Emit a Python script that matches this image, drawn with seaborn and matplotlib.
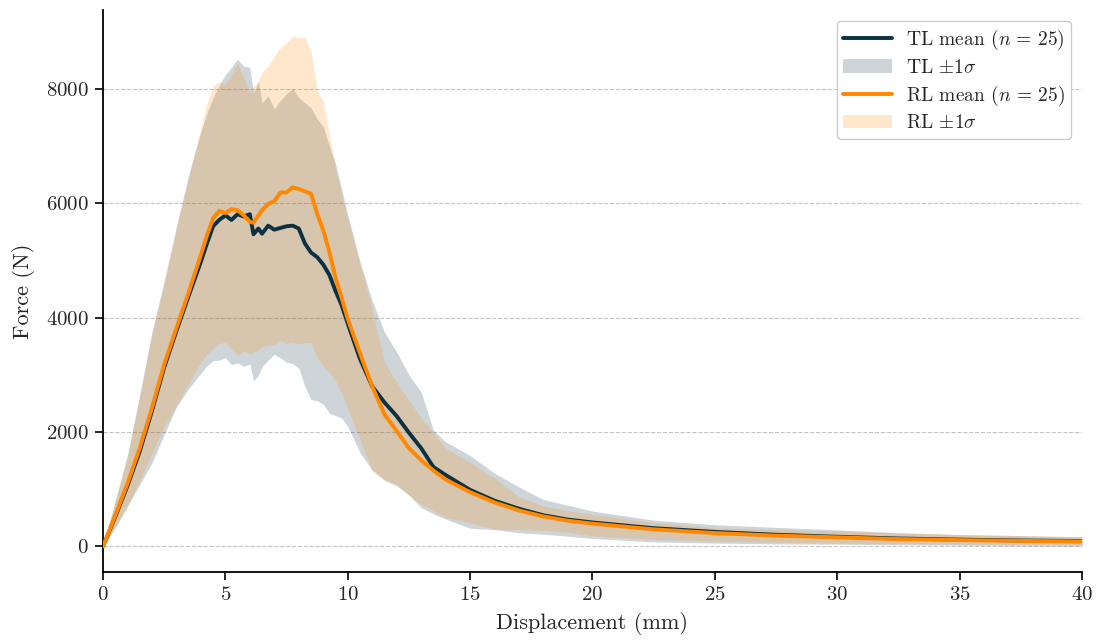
import matplotlib
matplotlib.use("Agg")
import matplotlib.pyplot as plt
import seaborn as sns
import numpy as np
import pandas as pd

# ---- data ----
displacement_mm = [0, 0.5, 1, 1.5, 2, 2.5, 3, 3.5, 4, 4.25, 4.5, 4.75, 5, 5.25, 5.5, 5.75, 6,
                   6.15, 6.35, 6.5, 6.75, 7, 7.25, 7.5, 7.75, 8, 8.25, 8.5, 8.75, 9, 9.25, 9.5,
                   9.75, 10, 10.5, 11, 11.5, 12, 12.5, 13, 13.5, 14, 15, 16, 17, 18, 19, 20,
                   22.5, 25, 27.5, 30, 32.5, 35, 37.5, 40]

tl_mean = [0, 520, 1060, 1660, 2370, 3130, 3770, 4380, 4980, 5300, 5600, 5710, 5790, 5710, 5810, 5770, 5810,
           5460, 5560, 5470, 5610, 5540, 5570, 5600, 5610, 5560, 5300, 5140, 5060, 4930, 4750, 4470,
           4220, 3900, 3280, 2800, 2520, 2280, 1990, 1720, 1390, 1250, 990, 800, 660, 545, 470, 420,
           320, 255, 205, 170, 140, 120, 105, 95]
tl_upper = [0, 800, 1600, 2650, 3750, 4650, 5600, 6500, 7250, 7580, 7850, 8060, 8250, 8380, 8520, 8400, 8380,
            7930, 8130, 7760, 7880, 7650, 7800, 7920, 8010, 7850, 7760, 7670, 7480, 7340, 7000, 6700,
            6250, 5800, 4980, 4300, 3750, 3400, 3000, 2700, 2030, 1830, 1590, 1280, 1040, 820, 720, 620,
            460, 380, 335, 290, 240, 210, 190, 170]
tl_lower = [0, 330, 700, 1080, 1460, 1960, 2440, 2760, 3030, 3160, 3250, 3260, 3300, 3180, 3210, 3150, 3190,
            2900, 2990, 3150, 3260, 3360, 3300, 3220, 3200, 3120, 2800, 2570, 2550, 2490, 2330, 2290,
            2250, 2100, 1640, 1330, 1160, 1060, 900, 680, 570, 480, 320, 295, 240, 215, 180, 140,
            80, 60, 45, 40, 30, 22, 12, 5]

rl_mean = [0, 540, 1100, 1720, 2420, 3180, 3820, 4440, 5100, 5440, 5740, 5870, 5830, 5900, 5880, 5790, 5680,
           5660, 5790, 5880, 5990, 6040, 6190, 6190, 6280, 6250, 6210, 6170, 5820, 5530, 5150, 4700,
           4350, 3980, 3380, 2800, 2310, 2020, 1720, 1510, 1330, 1170, 950, 770, 630, 525, 450, 400,
           300, 235, 190, 160, 130, 112, 98, 88]
rl_upper = [0, 780, 1560, 2600, 3700, 4580, 5540, 6450, 7330, 7750, 8050, 8130, 8080, 8250, 8450, 8200, 7930,
            8050, 8130, 8300, 8400, 8580, 8720, 8810, 8930, 8900, 8900, 8650, 7980, 7780, 7200, 6600,
            6150, 5750, 4950, 4150, 3220, 2870, 2560, 2250, 1990, 1720, 1470, 1190, 870, 710, 630, 560,
            420, 330, 295, 270, 240, 210, 190, 170]
rl_lower = [0, 330, 720, 1150, 1640, 2090, 2470, 2845, 3220, 3360, 3460, 3550, 3570, 3450, 3340, 3420, 3370,
            3390, 3440, 3500, 3510, 3530, 3610, 3550, 3570, 3540, 3570, 3560, 3300, 3160, 3040, 2900,
            2680, 2420, 1860, 1330, 1170, 1080, 900, 740, 620, 510, 415, 300, 298, 280, 250, 185,
            125, 95, 75, 60, 50, 45, 40, 35]

n_specimens = 25

TL_COLOR = "#0b3142"
RL_COLOR = "#ff8800"

# ---- style ----
sns.set_theme(style="ticks")
plt.rcParams["font.family"] = ["cmr10", "DejaVu Serif"]
plt.rcParams["mathtext.fontset"] = "cm"
plt.rcParams["axes.formatter.use_mathtext"] = True
plt.rcParams["axes.unicode_minus"] = False

df = pd.DataFrame({
    "x": displacement_mm,
    "tl_mean": tl_mean, "tl_lo": tl_lower, "tl_hi": tl_upper,
    "rl_mean": rl_mean, "rl_lo": rl_lower, "rl_hi": rl_upper,
})

fig, ax = plt.subplots(figsize=(10.99, 6.42), dpi=100)
fig.subplots_adjust(left=0.0937, right=0.9845, top=0.984, bottom=0.109)

ax.fill_between(df["x"], df["tl_lo"], df["tl_hi"], color=TL_COLOR, alpha=0.2,
                linewidth=0, label=r"TL $\pm1\sigma$", zorder=1)
ax.fill_between(df["x"], df["rl_lo"], df["rl_hi"], color=RL_COLOR, alpha=0.2,
                linewidth=0, label=r"RL $\pm1\sigma$", zorder=1)
sns.lineplot(data=df, x="x", y="tl_mean", color=TL_COLOR, linewidth=2.8,
             label=rf"TL mean ($n\,=\,{n_specimens}$)", ax=ax, zorder=3)
sns.lineplot(data=df, x="x", y="rl_mean", color=RL_COLOR, linewidth=2.8,
             label=rf"RL mean ($n\,=\,{n_specimens}$)", ax=ax, zorder=4)

ax.set_xlim(0, 40)
ax.set_xticks(np.arange(0, 41, 5))
ax.set_yticks([0, 2000, 4000, 6000, 8000])
ax.yaxis.grid(True, linestyle="--", color="#c4c4c4", linewidth=0.8)
ax.set_axisbelow(True)
sns.despine(ax=ax)
for s in ("left", "bottom"):
    ax.spines[s].set_linewidth(1.3)
    ax.spines[s].set_color("black")
ax.tick_params(axis="both", labelsize=15, length=6, width=1.2, color="black", pad=4)

ax.set_xlabel("Displacement (mm)", fontsize=16, labelpad=6)
ax.set_ylabel("Force (N)", fontsize=16, labelpad=8)

handles, labels = ax.get_legend_handles_labels()
order = [rf"TL mean ($n\,=\,{n_specimens}$)", r"TL $\pm1\sigma$",
         rf"RL mean ($n\,=\,{n_specimens}$)", r"RL $\pm1\sigma$"]
hmap = dict(zip(labels, handles))
leg = ax.legend([hmap[l] for l in order], order, loc="upper right", fontsize=14,
                frameon=True, fancybox=True, framealpha=1, edgecolor="#cccccc",
                borderpad=0.35, labelspacing=0.35, handlelength=2.5, handletextpad=0.7,
                borderaxespad=0.55)
leg.get_frame().set_linewidth(1.0)

fig.savefig("out.png", dpi=100)
